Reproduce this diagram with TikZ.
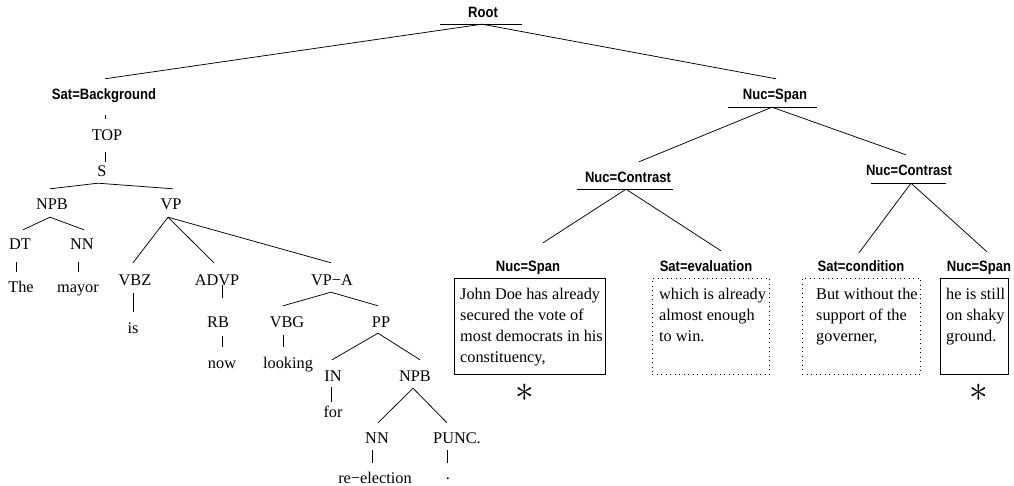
\documentclass[tikz,border=0pt]{standalone}
\usepackage{fontspec}
\setmainfont{Liberation Serif}
\newfontfamily\labfont{Liberation Sans}[FakeStretch=0.87]
\begin{document}
\begin{tikzpicture}[x=1pt,y=-1pt,
  tree/.style={font=\fontsize{16.3}{20}\selectfont, inner sep=0pt, text height=10pt, text depth=0pt},
  rel/.style={font=\labfont\bfseries\fontsize{15}{18}\selectfont, inner sep=0pt, text height=10pt, text depth=0pt},
  edge/.style={line width=0.75pt},
  solidbox/.style={draw, line width=0.8pt, inner sep=0pt, anchor=north west},
  dotbox/.style={draw, line width=0.9pt, dash pattern=on 0.9pt off 3.6pt, inner sep=0pt, anchor=north west},
  txt/.style={font=\fontsize{16.3}{21}\selectfont, align=left, inner sep=0pt, anchor=north west},
  astx/.style={font=\fontsize{24.88}{25}\selectfont, inner sep=0pt, scale=1.5}]
\useasboundingbox (0,0) rectangle (1014,486);

% relation labels
\node[rel] (root) at (483,13) {Root};
\node[rel] (satbg) at (104,95) {Sat=Background};
\node[rel] (nucspan) at (775,95) {Nuc=Span};
\node[rel] (nucca) at (628,178) {Nuc=Contrast};
\node[rel] (nuccb) at (909,171) {Nuc=Contrast};
\node[rel] (nsa) at (528,267) {Nuc=Span};
\node[rel] (seval) at (706,267) {Sat=evaluation};
\node[rel] (scond) at (861,267) {Sat=condition};
\node[rel] (nsb) at (979,267) {Nuc=Span};

% underlines
\draw[edge] ([shift={(-43,6)}]root.south) -- ([shift={(39,6)}]root.south);
\draw[edge] ([shift={(-47,7)}]nucspan.south) -- ([shift={(42,7)}]nucspan.south);
\draw[edge] ([shift={(-51,6)}]nucca.south) -- ([shift={(45,6)}]nucca.south);
\draw[edge] ([shift={(-38,7)}]nuccb.south) -- ([shift={(37,7)}]nuccb.south);

% syntax tree
\node[tree] (top) at (107,136) {TOP};
\node[tree] (S) at (102,172) {S};
\node[tree] (npb) at (52,205) {NPB};
\node[tree] (vp) at (171,205) {VP};
\node[tree] (dt) at (20,245) {DT};
\node[tree] (nn) at (82,245) {NN};
\node[tree] (the) at (21,287) {The};
\node[tree] (mayor) at (78,287) {mayor};
\node[tree] (vbz) at (135,280) {VBZ};
\node[tree] (advp) at (217,280) {ADVP};
\node[tree] (vpa) at (332,280) {VP−A};
\node[tree] (is) at (133,328) {is};
\node[tree] (rb) at (218,322) {RB};
\node[tree] (now) at (222,363) {now};
\node[tree] (vbg) at (287,322) {VBG};
\node[tree] (pp) at (381,322) {PP};
\node[tree] (looking) at (288,363) {looking};
\node[tree] (in) at (333,376) {IN};
\node[tree] (npbb) at (415,376) {NPB};
\node[tree] (for) at (333,412) {for};
\node[tree] (nnb) at (377,438) {NN};
\node[tree] (punc) at (457,438) {PUNC.};
\node[tree] (reel) at (375,478) {re−election};
\node[tree] (dot) at (448,474) {.};

% discourse connectors
\draw[edge] ([shift={(-1,6)}]root.south) -- ([shift={(1,-11)}]satbg.north);
\draw[edge] ([shift={(-1,6)}]root.south) -- ([shift={(1,-11)}]nucspan.north);
\draw[edge] ([shift={(-3,7)}]nucspan.south) -- ([shift={(11,-11)}]nucca.north);
\draw[edge] ([shift={(-3,7)}]nucspan.south) -- ([shift={(-3,-11)}]nuccb.north);
\draw[edge] ([shift={(-2,6)}]nucca.south) -- ([shift={(15,-19)}]nsa.north);
\draw[edge] ([shift={(-2,6)}]nucca.south) -- ([shift={(15,-11)}]seval.north);
\draw[edge] ([shift={(2,7)}]nuccb.south) -- ([shift={(-2,-9)}]scond.north);
\draw[edge] ([shift={(2,7)}]nuccb.south) -- ([shift={(8,-10)}]nsb.north);

% tree connectors
\draw[edge] ([shift={(1,15)}]satbg.south) -- ([shift={(-2,-12)}]top.north);
\draw[edge] ([shift={(-2,11)}]top.south) -- ([shift={(3,-5)}]S.north);
\draw[edge] ([shift={(-4,6)}]S.south) -- ([shift={(-2,-11)}]npb.north);
\draw[edge] ([shift={(-4,6)}]S.south) -- ([shift={(2,-11)}]vp.north);
\draw[edge] ([shift={(-2,7)}]npb.south) -- ([shift={(3,-10)}]dt.north);
\draw[edge] ([shift={(-2,7)}]npb.south) -- ([shift={(2,-10)}]nn.north);
\draw[edge] ([shift={(-4,12)}]dt.south) -- ([shift={(-5,-10)}]the.north);
\draw[edge] ([shift={(-4,12)}]nn.south) -- ([shift={(0,-10)}]mayor.north);
\draw[edge] ([shift={(-3,7)}]vp.south) -- ([shift={(-2,-12)}]vbz.north);
\draw[edge] ([shift={(-3,7)}]vp.south) -- ([shift={(-3,-12)}]advp.north);
\draw[edge] ([shift={(-3,7)}]vp.south) -- ([shift={(-1,-12)}]vpa.north);
\draw[edge] ([shift={(-2,8)}]vbz.south) -- ([shift={(0,-11)}]is.north);
\draw[edge] ([shift={(5,0)}]advp.south) -- ([shift={(4,-19)}]rb.north);
\draw[edge] ([shift={(4,9)}]rb.south) -- ([shift={(0,-11)}]now.north);
\draw[edge] ([shift={(-1,7)}]vpa.south) -- ([shift={(-4,-11)}]vbg.north);
\draw[edge] ([shift={(-1,7)}]vpa.south) -- ([shift={(-3,-11)}]pp.north);
\draw[edge] ([shift={(-4,8)}]vbg.south) -- ([shift={(-5,-11)}]looking.north);
\draw[edge] ([shift={(-3,6)}]pp.south) -- ([shift={(-1,-11)}]in.north);
\draw[edge] ([shift={(-3,6)}]pp.south) -- ([shift={(5,-11)}]npbb.north);
\draw[edge] ([shift={(-2,6)}]in.south) -- ([shift={(-2,-5)}]for.north);
\draw[edge] ([shift={(-2,7)}]npbb.south) -- ([shift={(1,-10)}]nnb.north);
\draw[edge] ([shift={(-2,7)}]npbb.south) -- ([shift={(-10,-10)}]punc.north);
\draw[edge] ([shift={(-5,7)}]nnb.south) -- ([shift={(-3,-10)}]reel.north);
\draw[edge] ([shift={(-10,7)}]punc.south) -- ([shift={(-1,-6)}]dot.north);

% EDU boxes
\node[solidbox, minimum width=151pt, minimum height=96pt] (boxa) at (454,278) {};
\node[dotbox, minimum width=117pt, minimum height=96pt] (boxb) at (652,278) {};
\node[dotbox, minimum width=118pt, minimum height=96pt] (boxc) at (802,278) {};
\node[solidbox, minimum width=68pt, minimum height=96pt] (boxd) at (940,278) {};
\node[txt] (ta) at ([shift={(6,10)}]boxa.north west) {John Doe has already\\secured the vote of\\most democrats in his\\constituency,};
\node[txt] (tb) at ([shift={(7,10)}]boxb.north west) {which is already\\almost enough\\to win.};
\node[txt] (tc) at ([shift={(14,10)}]boxc.north west) {But without the\\support of the\\governer,};
\node[txt] (td) at ([shift={(6,10)}]boxd.north west) {he is still\\on shaky\\ground.};

\node[astx] (asta) at (525,393) {$\ast$};
\node[astx] (astb) at (979,393) {$\ast$};
\end{tikzpicture}
\end{document}
